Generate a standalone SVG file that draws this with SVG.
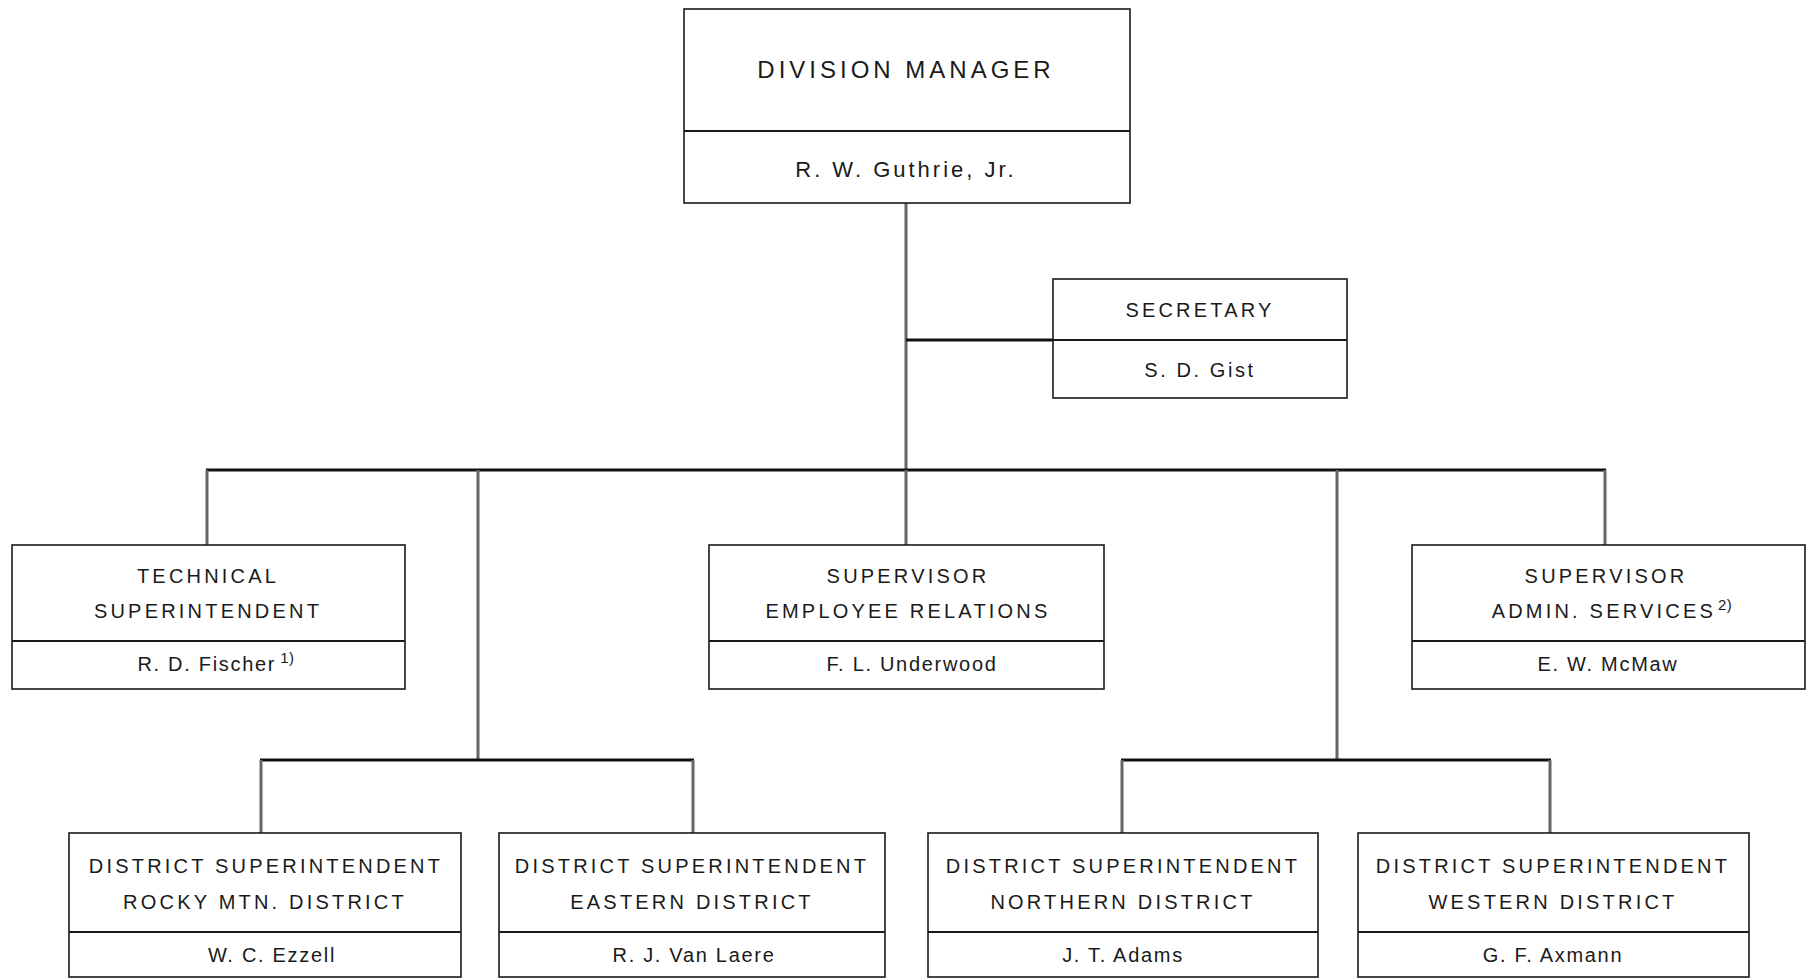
<svg xmlns="http://www.w3.org/2000/svg" width="1808" height="979" viewBox="0 0 1808 979">
<style>
.box{fill:#fff;stroke:#1a1a1a;stroke-width:1.6}
.div{stroke:#1a1a1a;stroke-width:2}
.bus{stroke:#111;stroke-width:3;fill:none}
.vert{stroke:#666;stroke-width:3;fill:none}
text{font-family:"Liberation Sans",Arial,sans-serif;fill:#1a1a1a;text-anchor:middle}
.t{font-size:20px;letter-spacing:3.2px}
.n{font-size:20px;letter-spacing:1.7px}
.sup{font-size:15px;letter-spacing:0.5px}
</style>
<rect width="1808" height="979" fill="#fff"/>
<g id="connectors">
<line class="vert" x1="906" y1="203" x2="906" y2="470"/>
<line class="bus" x1="906" y1="340" x2="1053" y2="340"/>
<line class="bus" x1="206" y1="470" x2="1606" y2="470"/>
<line class="vert" x1="207" y1="470" x2="207" y2="545"/>
<line class="vert" x1="478" y1="470" x2="478" y2="760"/>
<line class="vert" x1="906" y1="470" x2="906" y2="545"/>
<line class="vert" x1="1337" y1="470" x2="1337" y2="760"/>
<line class="vert" x1="1605" y1="470" x2="1605" y2="545"/>
<line class="bus" x1="260" y1="760" x2="694" y2="760"/>
<line class="bus" x1="1121" y1="760" x2="1551" y2="760"/>
<line class="vert" x1="261" y1="760" x2="261" y2="833"/>
<line class="vert" x1="693" y1="760" x2="693" y2="833"/>
<line class="vert" x1="1122" y1="760" x2="1122" y2="833"/>
<line class="vert" x1="1550" y1="760" x2="1550" y2="833"/>
</g>
<g id="division-manager">
<rect class="box" x="684" y="9" width="446" height="194"/>
<line class="div" x1="684" y1="131" x2="1130" y2="131"/>
<text x="906" y="78" style="font-size:24px;letter-spacing:4px">DIVISION MANAGER</text>
<text x="906" y="177" style="font-size:22px;letter-spacing:3px">R. W. Guthrie, Jr.</text>
</g>
<g id="secretary">
<rect class="box" x="1053" y="279" width="294" height="119"/>
<line class="div" x1="1053" y1="340" x2="1347" y2="340"/>
<text class="t" x="1200" y="317">SECRETARY</text>
<text class="n" x="1200" y="377" style="letter-spacing:2.6px">S. D. Gist</text>
</g>
<g id="technical-superintendent">
<rect class="box" x="12" y="545" width="393" height="144"/>
<line class="div" x1="12" y1="641" x2="405" y2="641"/>
<text class="t" x="208" y="583">TECHNICAL</text>
<text class="t" x="208" y="618">SUPERINTENDENT</text>
<text class="n" x="216" y="671">R. D. Fischer<tspan class="sup" dx="4" dy="-8">1)</tspan></text>
</g>
<g id="supervisor-employee-relations">
<rect class="box" x="709" y="545" width="395" height="144"/>
<line class="div" x1="709" y1="641" x2="1104" y2="641"/>
<text class="t" x="908" y="583">SUPERVISOR</text>
<text class="t" x="908" y="618">EMPLOYEE RELATIONS</text>
<text class="n" x="912" y="671">F. L. Underwood</text>
</g>
<g id="supervisor-admin-services">
<rect class="box" x="1412" y="545" width="393" height="144"/>
<line class="div" x1="1412" y1="641" x2="1805" y2="641"/>
<text class="t" x="1606" y="583">SUPERVISOR</text>
<text class="t" x="1612" y="618">ADMIN. SERVICES<tspan class="sup" dx="2" dy="-8">2)</tspan></text>
<text class="n" x="1608" y="671">E. W. McMaw</text>
</g>
<g id="district-rocky-mtn">
<rect class="box" x="69" y="833" width="392" height="144"/>
<line class="div" x1="69" y1="932" x2="461" y2="932"/>
<text class="t" x="266" y="873">DISTRICT SUPERINTENDENT</text>
<text class="t" x="265" y="909">ROCKY MTN. DISTRICT</text>
<text class="n" x="272" y="962">W. C. Ezzell</text>
</g>
<g id="district-eastern">
<rect class="box" x="499" y="833" width="386" height="144"/>
<line class="div" x1="499" y1="932" x2="885" y2="932"/>
<text class="t" x="692" y="873">DISTRICT SUPERINTENDENT</text>
<text class="t" x="692" y="909">EASTERN DISTRICT</text>
<text class="n" x="694" y="962">R. J. Van Laere</text>
</g>
<g id="district-northern">
<rect class="box" x="928" y="833" width="390" height="144"/>
<line class="div" x1="928" y1="932" x2="1318" y2="932"/>
<text class="t" x="1123" y="873">DISTRICT SUPERINTENDENT</text>
<text class="t" x="1123" y="909">NORTHERN DISTRICT</text>
<text class="n" x="1123" y="962">J. T. Adams</text>
</g>
<g id="district-western">
<rect class="box" x="1358" y="833" width="391" height="144"/>
<line class="div" x1="1358" y1="932" x2="1749" y2="932"/>
<text class="t" x="1553" y="873">DISTRICT SUPERINTENDENT</text>
<text class="t" x="1553" y="909">WESTERN DISTRICT</text>
<text class="n" x="1553" y="962">G. F. Axmann</text>
</g>
</svg>
